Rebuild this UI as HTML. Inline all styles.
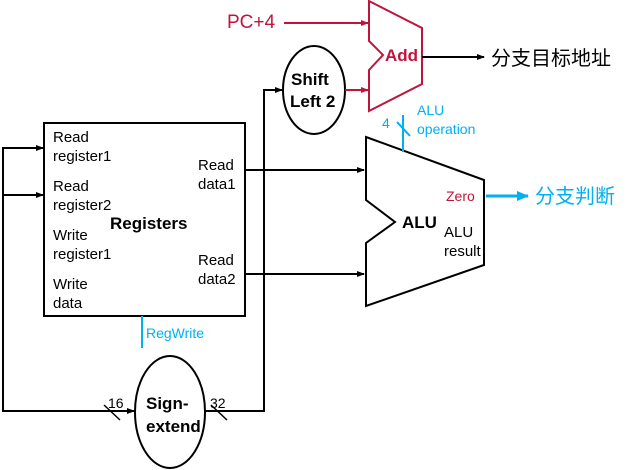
<!DOCTYPE html>
<html><head><meta charset="utf-8"><style>
html,body{margin:0;padding:0;background:#fff;}
svg{display:block;}
text{font-family:"Liberation Sans","Noto Sans CJK SC",sans-serif;}
</style></head><body>
<svg width="639" height="470" viewBox="0 0 639 470" xmlns="http://www.w3.org/2000/svg">
<defs>
<marker id="ab" markerWidth="8" markerHeight="8" refX="7" refY="4" orient="auto" markerUnits="userSpaceOnUse"><path d="M0,1 L8,4 L0,7 Z" fill="#000"/></marker>
<marker id="ar" markerWidth="8" markerHeight="8" refX="7" refY="4" orient="auto" markerUnits="userSpaceOnUse"><path d="M0,1 L8,4 L0,7 Z" fill="#c0143c"/></marker>
<marker id="ac" markerWidth="12" markerHeight="12" refX="11" refY="6" orient="auto" markerUnits="userSpaceOnUse"><path d="M0,1 L12,6 L0,11 Z" fill="#00b0f0"/></marker>
</defs>
<g fill="none" stroke="#000" stroke-width="2">
<polygon points="369,1 422,28 422,84 369,111 369,70 383,55 369,41" stroke="#c0143c"/>
<polygon points="366,137 484,180 484,265 366,306 366,243 395,222 366,200"/>
<rect x="44" y="123" width="201" height="193"/>
<ellipse cx="314" cy="90" rx="31" ry="44"/>
<ellipse cx="170" cy="412" rx="35" ry="56"/>
<line x1="284" y1="23" x2="368" y2="23" stroke="#c0143c" marker-end="url(#ar)"/>
<line x1="345" y1="90" x2="368" y2="90" stroke="#c0143c" marker-end="url(#ar)"/>
<line x1="422" y1="57" x2="484" y2="57" marker-end="url(#ab)"/>
<polyline points="205,411 264,411 264,90 282,90" marker-end="url(#ab)"/>
<line x1="245" y1="170" x2="364" y2="170" marker-end="url(#ab)"/>
<line x1="245" y1="274" x2="364" y2="274" marker-end="url(#ab)"/>
<polyline points="43,148 3,148 3,411 134,411" marker-end="url(#ab)"/>
<line x1="3" y1="148" x2="43" y2="148" marker-end="url(#ab)"/>
<line x1="3" y1="195" x2="43" y2="195" marker-end="url(#ab)"/>
<line x1="104" y1="405" x2="120" y2="420" stroke-width="1.5"/>
<line x1="211" y1="405" x2="227" y2="420" stroke-width="1.5"/>
</g>
<g stroke="#00b0f0" stroke-width="2" fill="none">
<line x1="142" y1="316" x2="142" y2="348"/>
<line x1="403" y1="115" x2="403" y2="152"/>
<line x1="397" y1="122" x2="410" y2="136"/>
<line x1="486" y1="196" x2="528" y2="196" stroke-width="3" marker-end="url(#ac)"/>
</g>
<g font-size="15" fill="#000">
<text x="53" y="142">Read</text><text x="53" y="161">register1</text>
<text x="53" y="191">Read</text><text x="53" y="210">register2</text>
<text x="53" y="240">Write</text><text x="53" y="259">register1</text>
<text x="53" y="289">Write</text><text x="53" y="308">data</text>
<text x="198" y="170">Read</text><text x="198" y="189">data1</text>
<text x="198" y="265">Read</text><text x="198" y="284">data2</text>
<text x="444" y="237">ALU</text><text x="444" y="256">result</text>
<text x="108" y="408" font-size="14">16</text><text x="210" y="408" font-size="14">32</text>
</g>
<g font-size="17" font-weight="bold" fill="#000">
<text x="110" y="229">Registers</text>
<text x="402" y="228">ALU</text>
<text x="291" y="85">Shift</text><text x="290" y="107">Left 2</text>
<text x="146" y="409">Sign-</text><text x="146" y="432">extend</text>
</g>
<text x="385" y="61" font-size="17" font-weight="bold" fill="#c0143c">Add</text>
<text x="227" y="28" font-size="19" fill="#c0143c">PC+4</text>
<text x="446" y="201" font-size="14" fill="#c0143c">Zero</text>
<text x="491" y="65" font-size="20" fill="#000">分支目标地址</text>
<text x="535" y="203" font-size="20" fill="#00b0f0">分支判断</text>
<g font-size="14" fill="#00b0f0">
<text x="146" y="338">RegWrite</text>
<text x="382" y="128">4</text>
<text x="417" y="115">ALU</text><text x="417" y="134">operation</text>
</g>
</svg>
</body></html>
